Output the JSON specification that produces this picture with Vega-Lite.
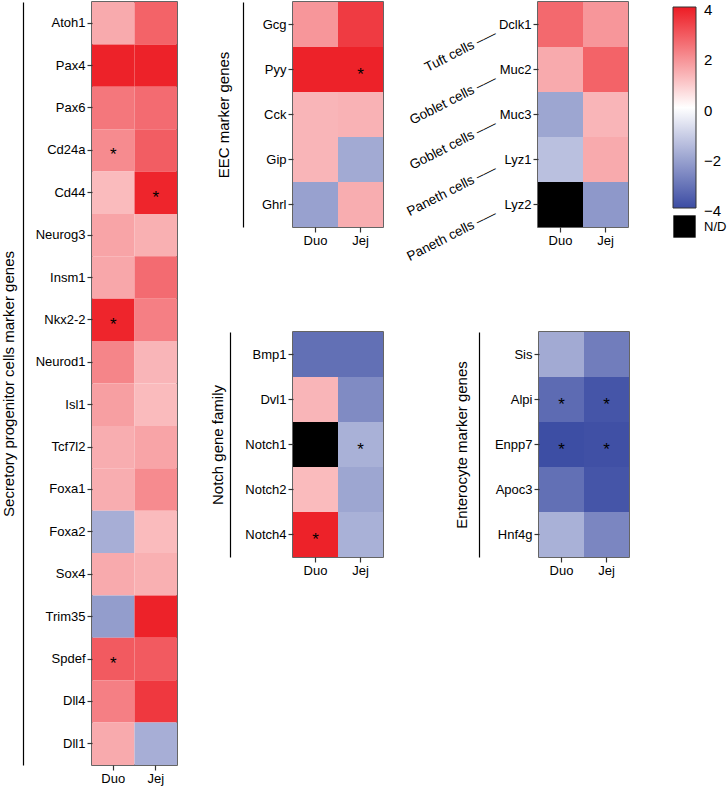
{
  "$schema": "https://vega.github.io/schema/vega-lite/v6.json",
  "padding": {"left": 0, "top": 1, "right": 0, "bottom": 0},
  "background": "white",
  "config": {
    "font": "Liberation Sans",
    "view": {"stroke": "#333", "strokeWidth": 1.5},
    "axis": {
      "labelFont": "Liberation Sans", "labelFontSize": 13, "labelColor": "black",
      "tickColor": "#333", "tickSize": 5, "tickWidth": 1.2, "labelPadding": 2,
      "titleFont": "Liberation Sans", "titleFontSize": 15, "titleFontWeight": "normal", "titleColor": "black",
      "grid": false, "domain": false
    },
    "legend": {
      "padding": 0,
      "labelFont": "Liberation Sans", "labelColor": "black",
      "gradientLength": 201, "gradientThickness": 23,
      "gradientStrokeColor": "#333", "gradientStrokeWidth": 1
    },
    "text": {"font": "Liberation Sans"}
  },
  "datasets": {
    "secretory": [
      {"gene": "Atoh1", "region": "Duo", "v": 1.5, "sig": ""}, {"gene": "Atoh1", "region": "Jej", "v": 2.75, "sig": ""},
      {"gene": "Pax4", "region": "Duo", "v": 3.9, "sig": ""}, {"gene": "Pax4", "region": "Jej", "v": 3.9, "sig": ""},
      {"gene": "Pax6", "region": "Duo", "v": 2.4, "sig": ""}, {"gene": "Pax6", "region": "Jej", "v": 2.6, "sig": ""},
      {"gene": "Cd24a", "region": "Duo", "v": 2.05, "sig": "*"}, {"gene": "Cd24a", "region": "Jej", "v": 2.85, "sig": ""},
      {"gene": "Cd44", "region": "Duo", "v": 1.2, "sig": ""}, {"gene": "Cd44", "region": "Jej", "v": 3.85, "sig": "*"},
      {"gene": "Neurog3", "region": "Duo", "v": 1.6, "sig": ""}, {"gene": "Neurog3", "region": "Jej", "v": 1.4, "sig": ""},
      {"gene": "Insm1", "region": "Duo", "v": 1.55, "sig": ""}, {"gene": "Insm1", "region": "Jej", "v": 2.6, "sig": ""},
      {"gene": "Nkx2-2", "region": "Duo", "v": 3.85, "sig": "*"}, {"gene": "Nkx2-2", "region": "Jej", "v": 2.25, "sig": ""},
      {"gene": "Neurod1", "region": "Duo", "v": 2.15, "sig": ""}, {"gene": "Neurod1", "region": "Jej", "v": 1.3, "sig": ""},
      {"gene": "Isl1", "region": "Duo", "v": 1.7, "sig": ""}, {"gene": "Isl1", "region": "Jej", "v": 1.2, "sig": ""},
      {"gene": "Tcf7l2", "region": "Duo", "v": 1.45, "sig": ""}, {"gene": "Tcf7l2", "region": "Jej", "v": 1.6, "sig": ""},
      {"gene": "Foxa1", "region": "Duo", "v": 1.45, "sig": ""}, {"gene": "Foxa1", "region": "Jej", "v": 2.05, "sig": ""},
      {"gene": "Foxa2", "region": "Duo", "v": -1.8, "sig": ""}, {"gene": "Foxa2", "region": "Jej", "v": 1.2, "sig": ""},
      {"gene": "Sox4", "region": "Duo", "v": 1.5, "sig": ""}, {"gene": "Sox4", "region": "Jej", "v": 1.4, "sig": ""},
      {"gene": "Trim35", "region": "Duo", "v": -2.2, "sig": ""}, {"gene": "Trim35", "region": "Jej", "v": 3.9, "sig": ""},
      {"gene": "Spdef", "region": "Duo", "v": 2.9, "sig": "*"}, {"gene": "Spdef", "region": "Jej", "v": 2.9, "sig": ""},
      {"gene": "Dll4", "region": "Duo", "v": 2.25, "sig": ""}, {"gene": "Dll4", "region": "Jej", "v": 3.5, "sig": ""},
      {"gene": "Dll1", "region": "Duo", "v": 1.5, "sig": ""}, {"gene": "Dll1", "region": "Jej", "v": -1.8, "sig": ""}
    ],
    "eec": [
      {"gene": "Gcg", "region": "Duo", "v": 1.85, "sig": ""}, {"gene": "Gcg", "region": "Jej", "v": 3.45, "sig": ""},
      {"gene": "Pyy", "region": "Duo", "v": 3.9, "sig": ""}, {"gene": "Pyy", "region": "Jej", "v": 3.9, "sig": "*"},
      {"gene": "Cck", "region": "Duo", "v": 1.3, "sig": ""}, {"gene": "Cck", "region": "Jej", "v": 1.35, "sig": ""},
      {"gene": "Gip", "region": "Duo", "v": 1.3, "sig": ""}, {"gene": "Gip", "region": "Jej", "v": -1.9, "sig": ""},
      {"gene": "Ghrl", "region": "Duo", "v": -2.1, "sig": ""}, {"gene": "Ghrl", "region": "Jej", "v": 1.45, "sig": ""}
    ],
    "cell": [
      {"gene": "Dclk1", "region": "Duo", "v": 2.65, "sig": "", "nd": ""}, {"gene": "Dclk1", "region": "Jej", "v": 1.85, "sig": "", "nd": ""},
      {"gene": "Muc2", "region": "Duo", "v": 1.5, "sig": "", "nd": ""}, {"gene": "Muc2", "region": "Jej", "v": 2.75, "sig": "", "nd": ""},
      {"gene": "Muc3", "region": "Duo", "v": -2.0, "sig": "", "nd": ""}, {"gene": "Muc3", "region": "Jej", "v": 1.3, "sig": "", "nd": ""},
      {"gene": "Lyz1", "region": "Duo", "v": -1.4, "sig": "", "nd": ""}, {"gene": "Lyz1", "region": "Jej", "v": 1.5, "sig": "", "nd": ""},
      {"gene": "Lyz2", "region": "Duo", "v": null, "sig": "", "nd": "N/D"}, {"gene": "Lyz2", "region": "Jej", "v": -2.3, "sig": "", "nd": ""}
    ],
    "notch": [
      {"gene": "Bmp1", "region": "Duo", "v": -3.2, "sig": "", "nd": ""}, {"gene": "Bmp1", "region": "Jej", "v": -3.2, "sig": "", "nd": ""},
      {"gene": "Dvl1", "region": "Duo", "v": 1.3, "sig": "", "nd": ""}, {"gene": "Dvl1", "region": "Jej", "v": -2.6, "sig": "", "nd": ""},
      {"gene": "Notch1", "region": "Duo", "v": null, "sig": "", "nd": "N/D"}, {"gene": "Notch1", "region": "Jej", "v": -1.75, "sig": "*", "nd": ""},
      {"gene": "Notch2", "region": "Duo", "v": 1.2, "sig": "", "nd": ""}, {"gene": "Notch2", "region": "Jej", "v": -2.0, "sig": "", "nd": ""},
      {"gene": "Notch4", "region": "Duo", "v": 3.9, "sig": "*", "nd": ""}, {"gene": "Notch4", "region": "Jej", "v": -1.75, "sig": "", "nd": ""}
    ],
    "ent": [
      {"gene": "Sis", "region": "Duo", "v": -1.9, "sig": ""}, {"gene": "Sis", "region": "Jej", "v": -2.9, "sig": ""},
      {"gene": "Alpi", "region": "Duo", "v": -3.3, "sig": "*"}, {"gene": "Alpi", "region": "Jej", "v": -3.8, "sig": "*"},
      {"gene": "Enpp7", "region": "Duo", "v": -3.95, "sig": "*"}, {"gene": "Enpp7", "region": "Jej", "v": -3.9, "sig": "*"},
      {"gene": "Apoc3", "region": "Duo", "v": -3.2, "sig": ""}, {"gene": "Apoc3", "region": "Jej", "v": -3.8, "sig": ""},
      {"gene": "Hnf4g", "region": "Duo", "v": -1.75, "sig": ""}, {"gene": "Hnf4g", "region": "Jej", "v": -2.7, "sig": ""}
    ]
  },
  "bounds": "flush",
  "spacing": 116,
  "hconcat": [
    {
      "width": 85, "height": 763,
      "data": {"name": "secretory"},
      "layer": [
        {
          "mark": {"type": "rect"},
          "encoding": {
            "x": {"field": "region", "type": "nominal", "sort": null, "scale": {"paddingInner": 0, "paddingOuter": 0}, "axis": {"title": null, "labelAngle": 0, "orient": "bottom"}},
            "y": {"field": "gene", "type": "nominal", "sort": null, "scale": {"paddingInner": 0, "paddingOuter": 0}, "axis": {"title": null, "orient": "left"}},
            "color": {"field": "v", "type": "quantitative", "title": null, "scale": {"domain": [-4, 0, 4], "range": ["#3b4ca3", "#ffffff", "#ed1c24"], "interpolate": "rgb"}, "legend": {"orient": "none", "legendX": 581, "legendY": 5, "values": [-4, -2, 0, 2, 4], "labelFontSize": 15, "labelOffset": 8, "direction": "vertical", "encode": {"labels": {"update": {"baseline": {"value": "middle"}, "dy": {"value": 3}}}}}}
          }
        },
        {
          "mark": {"type": "text", "fontSize": 17, "dy": 5, "color": "black"},
          "encoding": {
            "x": {"field": "region", "type": "nominal", "sort": null, "scale": {"paddingInner": 0, "paddingOuter": 0}, "axis": {"title": null, "labelAngle": 0, "orient": "bottom"}},
            "y": {"field": "gene", "type": "nominal", "sort": null, "scale": {"paddingInner": 0, "paddingOuter": 0}, "axis": {"orient": "left", "offset": 69, "domain": true, "domainColor": "black", "domainWidth": 1.2, "ticks": false, "labels": false, "title": "Secretory progenitor cells marker genes", "titlePadding": 7}},
            "text": {"field": "sig"}
          }
        }
      ],
      "resolve": {"scale": {"y": "independent"}}
    },
    {
      "bounds": "full",
      "spacing": 67,
      "vconcat": [
        {
          "bounds": "flush",
          "spacing": 155,
          "hconcat": [
            {
              "width": 90, "height": 225,
              "data": {"name": "eec"},
              "layer": [
                {
                  "mark": {"type": "rect"},
                  "encoding": {
                    "x": {"field": "region", "type": "nominal", "sort": null, "scale": {"paddingInner": 0, "paddingOuter": 0}, "axis": {"title": null, "labelAngle": 0, "orient": "bottom"}},
                    "y": {"field": "gene", "type": "nominal", "sort": null, "scale": {"paddingInner": 0, "paddingOuter": 0}, "axis": {"title": null, "orient": "left"}},
                    "color": {"field": "v", "type": "quantitative", "title": null, "scale": {"domain": [-4, 0, 4], "range": ["#3b4ca3", "#ffffff", "#ed1c24"], "interpolate": "rgb"}, "legend": {"orient": "none", "legendX": 581, "legendY": 5, "values": [-4, -2, 0, 2, 4], "labelFontSize": 15, "labelOffset": 8, "direction": "vertical", "encode": {"labels": {"update": {"baseline": {"value": "middle"}, "dy": {"value": 3}}}}}}
                  }
                },
                {
                  "mark": {"type": "text", "fontSize": 17, "dy": 5, "color": "black"},
                  "encoding": {
                    "x": {"field": "region", "type": "nominal", "sort": null, "scale": {"paddingInner": 0, "paddingOuter": 0}, "axis": {"title": null, "labelAngle": 0, "orient": "bottom"}},
                    "y": {"field": "gene", "type": "nominal", "sort": null, "scale": {"paddingInner": 0, "paddingOuter": 0}, "axis": {"orient": "left", "offset": 50, "domain": true, "domainColor": "black", "domainWidth": 1.2, "ticks": false, "labels": false, "title": "EEC marker genes", "titlePadding": 12}},
                    "text": {"field": "sig"}
                  }
                }
              ],
              "resolve": {"scale": {"y": "independent"}}
            },
            {
              "width": 90, "height": 225,
              "data": {"name": "cell"},
              "layer": [
                {
                  "mark": {"type": "rect"},
                  "encoding": {
                    "x": {"field": "region", "type": "nominal", "sort": null, "scale": {"paddingInner": 0, "paddingOuter": 0}, "axis": {"title": null, "labelAngle": 0, "orient": "bottom"}},
                    "y": {"field": "gene", "type": "nominal", "sort": null, "scale": {"paddingInner": 0, "paddingOuter": 0}, "axis": {"title": null, "orient": "left"}},
                    "color": {"field": "v", "type": "quantitative", "title": null, "scale": {"domain": [-4, 0, 4], "range": ["#3b4ca3", "#ffffff", "#ed1c24"], "interpolate": "rgb"}, "legend": {"orient": "none", "legendX": 581, "legendY": 5, "values": [-4, -2, 0, 2, 4], "labelFontSize": 15, "labelOffset": 8, "direction": "vertical", "encode": {"labels": {"update": {"baseline": {"value": "middle"}, "dy": {"value": 3}}}}}}
                  }
                },
                {
                  "transform": [{"filter": "datum.nd === 'N/D'"}],
                  "mark": {"type": "rect"},
                  "encoding": {
                    "x": {"field": "region", "type": "nominal", "sort": null, "scale": {"paddingInner": 0, "paddingOuter": 0}, "axis": {"title": null, "labelAngle": 0, "orient": "bottom"}},
                    "y": {"field": "gene", "type": "nominal", "sort": null, "scale": {"domain": ["Dclk1", "Muc2", "Muc3", "Lyz1", "Lyz2"], "paddingInner": 0, "paddingOuter": 0}, "axis": null},
                    "fill": {"field": "nd", "type": "nominal", "title": null, "scale": {"domain": ["N/D"], "range": ["black"]}, "legend": {"orient": "none", "legendX": 581, "legendY": 213, "symbolType": "square", "symbolSize": 500, "symbolStrokeWidth": 0, "labelFontSize": 13, "labelOffset": 8}}
                  }
                },
                {
                  "mark": {"type": "text", "fontSize": 17, "dy": 5, "color": "black"},
                  "encoding": {
                    "x": {"field": "region", "type": "nominal", "sort": null, "scale": {"paddingInner": 0, "paddingOuter": 0}, "axis": {"title": null, "labelAngle": 0, "orient": "bottom"}},
                    "y": {"field": "gene", "type": "nominal", "sort": null, "scale": {"paddingInner": 0, "paddingOuter": 0}, "axis": {"orient": "left", "offset": 43, "domain": false, "ticks": false, "labels": true, "labelAngle": -27, "labelAlign": "right", "labelBaseline": "middle", "labelPadding": 0, "labelOffset": 8, "labelFontSize": 13.5, "labelOverlap": false, "labelLimit": 0, "labelBound": false, "labelExpr": "(datum.label == 'Dclk1' ? 'Tuft cells' : (datum.label == 'Muc2' || datum.label == 'Muc3') ? 'Goblet cells' : 'Paneth cells') + ' \u2013\u2014'", "title": null}},
                    "text": {"field": "sig"}
                  }
                }
              ],
              "resolve": {"scale": {"y": "independent"}}
            }
          ]
        },
        {
          "bounds": "flush",
          "spacing": 156,
          "hconcat": [
            {
              "width": 90, "height": 225,
              "data": {"name": "notch"},
              "layer": [
                {
                  "mark": {"type": "rect"},
                  "encoding": {
                    "x": {"field": "region", "type": "nominal", "sort": null, "scale": {"paddingInner": 0, "paddingOuter": 0}, "axis": {"title": null, "labelAngle": 0, "orient": "bottom"}},
                    "y": {"field": "gene", "type": "nominal", "sort": null, "scale": {"paddingInner": 0, "paddingOuter": 0}, "axis": {"title": null, "orient": "left"}},
                    "color": {"field": "v", "type": "quantitative", "title": null, "scale": {"domain": [-4, 0, 4], "range": ["#3b4ca3", "#ffffff", "#ed1c24"], "interpolate": "rgb"}, "legend": {"orient": "none", "legendX": 581, "legendY": 5, "values": [-4, -2, 0, 2, 4], "labelFontSize": 15, "labelOffset": 8, "direction": "vertical", "encode": {"labels": {"update": {"baseline": {"value": "middle"}, "dy": {"value": 3}}}}}}
                  }
                },
                {
                  "transform": [{"filter": "datum.nd === 'N/D'"}],
                  "mark": {"type": "rect"},
                  "encoding": {
                    "x": {"field": "region", "type": "nominal", "sort": null, "scale": {"paddingInner": 0, "paddingOuter": 0}, "axis": {"title": null, "labelAngle": 0, "orient": "bottom"}},
                    "y": {"field": "gene", "type": "nominal", "sort": null, "scale": {"domain": ["Bmp1", "Dvl1", "Notch1", "Notch2", "Notch4"], "paddingInner": 0, "paddingOuter": 0}, "axis": null},
                    "fill": {"field": "nd", "type": "nominal", "title": null, "scale": {"domain": ["N/D"], "range": ["black"]}, "legend": {"orient": "none", "legendX": 581, "legendY": 213, "symbolType": "square", "symbolSize": 500, "symbolStrokeWidth": 0, "labelFontSize": 13, "labelOffset": 8}}
                  }
                },
                {
                  "mark": {"type": "text", "fontSize": 17, "dy": 5, "color": "black"},
                  "encoding": {
                    "x": {"field": "region", "type": "nominal", "sort": null, "scale": {"paddingInner": 0, "paddingOuter": 0}, "axis": {"title": null, "labelAngle": 0, "orient": "bottom"}},
                    "y": {"field": "gene", "type": "nominal", "sort": null, "scale": {"paddingInner": 0, "paddingOuter": 0}, "axis": {"orient": "left", "offset": 63, "domain": true, "domainColor": "black", "domainWidth": 1.2, "ticks": false, "labels": false, "title": "Notch gene family", "titlePadding": 5}},
                    "text": {"field": "sig"}
                  }
                }
              ],
              "resolve": {"scale": {"y": "independent"}}
            },
            {
              "width": 90, "height": 225,
              "data": {"name": "ent"},
              "layer": [
                {
                  "mark": {"type": "rect"},
                  "encoding": {
                    "x": {"field": "region", "type": "nominal", "sort": null, "scale": {"paddingInner": 0, "paddingOuter": 0}, "axis": {"title": null, "labelAngle": 0, "orient": "bottom"}},
                    "y": {"field": "gene", "type": "nominal", "sort": null, "scale": {"paddingInner": 0, "paddingOuter": 0}, "axis": {"title": null, "orient": "left"}},
                    "color": {"field": "v", "type": "quantitative", "title": null, "scale": {"domain": [-4, 0, 4], "range": ["#3b4ca3", "#ffffff", "#ed1c24"], "interpolate": "rgb"}, "legend": {"orient": "none", "legendX": 581, "legendY": 5, "values": [-4, -2, 0, 2, 4], "labelFontSize": 15, "labelOffset": 8, "direction": "vertical", "encode": {"labels": {"update": {"baseline": {"value": "middle"}, "dy": {"value": 3}}}}}}
                  }
                },
                {
                  "mark": {"type": "text", "fontSize": 17, "dy": 5, "color": "black"},
                  "encoding": {
                    "x": {"field": "region", "type": "nominal", "sort": null, "scale": {"paddingInner": 0, "paddingOuter": 0}, "axis": {"title": null, "labelAngle": 0, "orient": "bottom"}},
                    "y": {"field": "gene", "type": "nominal", "sort": null, "scale": {"paddingInner": 0, "paddingOuter": 0}, "axis": {"orient": "left", "offset": 60, "domain": true, "domainColor": "black", "domainWidth": 1.2, "ticks": false, "labels": false, "title": "Enterocyte marker genes", "titlePadding": 10}},
                    "text": {"field": "sig"}
                  }
                }
              ],
              "resolve": {"scale": {"y": "independent"}}
            }
          ]
        }
      ]
    }
  ]
}
